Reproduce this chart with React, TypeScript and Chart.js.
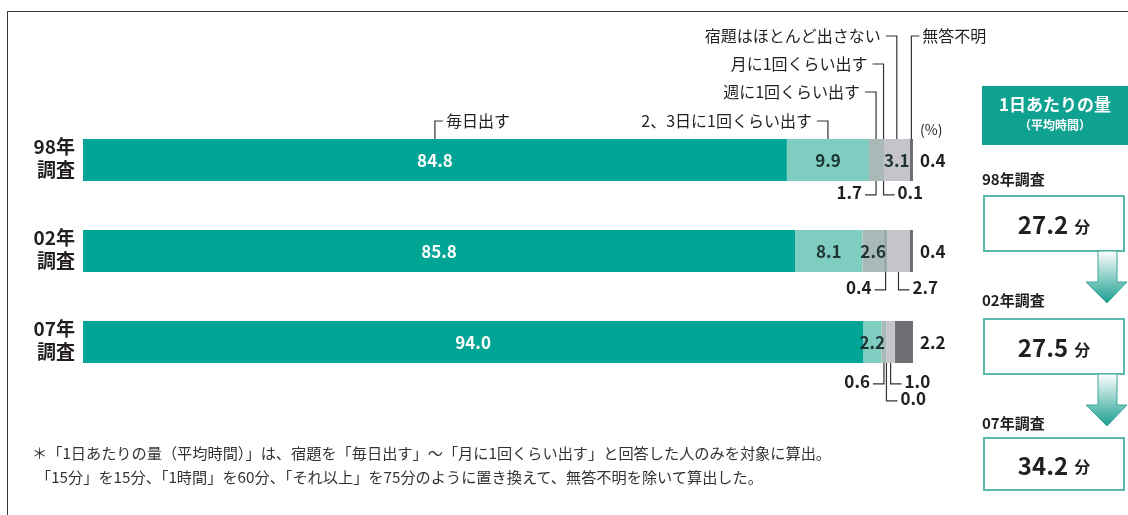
import React, { useEffect, useRef } from 'react';
import { Chart, registerables } from 'chart.js';

Chart.register(...registerables);

// ---------- data ----------
const surveys = ['98年調査', '02年調査', '07年調査'];
const surveyLines = [['98年', '調査'], ['02年', '調査'], ['07年', '調査']];
const categories = [
  '毎日出す',
  '2、3日に1回くらい出す',
  '週に1回くらい出す',
  '月に1回くらい出す',
  '宿題はほとんど出さない',
  '無答不明',
];
const daily = [84.8, 85.8, 94.0];
const every2or3Days = [9.9, 8.1, 2.2];
const weekly = [1.7, 2.6, 0.6];
const monthly = [0.1, 0.4, 0.0];
const rarely = [3.1, 2.7, 1.0];
const noAnswer = [0.4, 0.4, 2.2];
const avgMinutes = [27.2, 27.5, 34.2];
const panelTitle = '1日あたりの量';
const panelSub = '（平均時間）';
const unitLabel = '分';
const percentLabel = '(%)';
const footnotes = [
  '＊「1日あたりの量（平均時間）」は、宿題を「毎日出す」～「月に1回くらい出す」と回答した人のみを対象に算出。',
  '「15分」を15分、「1時間」を60分、「それ以上」を75分のように置き換えて、無答不明を除いて算出した。',
];

// ---------- styles ----------
const FONT = "'Noto Sans CJK JP', 'Noto Sans', sans-serif";
const colors = ['#00a595', '#7fcdc1', '#a9b9b7', '#9aa9a8', '#c6c4cb', '#6e6e73'];
const TEXT = '#231f20';
// where each value label goes: inW (inside, white), in (inside, dark), right, bL1 (below-left), bR1, bR2
const placements = [
  ['inW', 'in', 'bL1', 'bR1', 'in', 'right'],
  ['inW', 'in', 'in', 'bL1', 'bR1', 'right'],
  ['inW', 'in', 'bL1', 'bR2', 'bR1', 'right'],
];
const belowOffsets = [12, 16, 19];
// top category labels on first bar: [levelY, side]
const topLabelLayout: [number, 'l' | 'r'][] = [
  [121, 'r'],
  [121, 'l'],
  [92, 'l'],
  [64, 'l'],
  [36, 'l'],
  [36, 'r'],
];

const series = [daily, every2or3Days, weekly, monthly, rarely, noAnswer];

const annotatePlugin = {
  id: 'annotate',
  afterDatasetsDraw(chart: any) {
    const ctx = chart.ctx as CanvasRenderingContext2D;
    const xs = chart.scales.x;
    const n = chart.data.labels.length;
    ctx.save();
    ctx.strokeStyle = '#333';
    ctx.lineWidth = 1.2;
    ctx.textBaseline = 'middle';
    for (let i = 0; i < n; i++) {
      const bar = chart.getDatasetMeta(0).data[i];
      const yc = bar.y;
      const h = bar.height;
      const top = yc - h / 2;
      const bottom = yc + h / 2;
      // survey labels
      ctx.fillStyle = TEXT;
      ctx.font = `bold 19px ${FONT}`;
      ctx.textAlign = 'right';
      ctx.fillText(surveyLines[i][0], 75, yc - 13);
      ctx.fillText(surveyLines[i][1], 75, yc + 10);
      let cum = 0;
      chart.data.datasets.forEach((ds: any, j: number) => {
        const v = ds.data[i] as number;
        const x0 = xs.getPixelForValue(cum);
        cum += v;
        const x1 = xs.getPixelForValue(cum);
        const cx = (x0 + x1) / 2;
        const txt = v.toFixed(1);
        const p = placements[i][j];
        ctx.font = `bold 17px ${FONT}`;
        if (p === 'inW' || p === 'in') {
          ctx.fillStyle = p === 'inW' ? '#ffffff' : '#1e3535';
          ctx.textAlign = 'center';
          ctx.fillText(txt, cx, yc + 1);
        } else if (p === 'right') {
          ctx.fillStyle = TEXT;
          ctx.textAlign = 'left';
          ctx.fillText(txt, xs.getPixelForValue(100) + 7, yc + 1);
        } else {
          const level = p === 'bR2' ? 2 : 1;
          const ly = bottom + belowOffsets[i] + (level - 1) * 17;
          ctx.beginPath();
          ctx.moveTo(cx, bottom);
          ctx.lineTo(cx, ly + 2);
          if (p === 'bL1') {
            ctx.lineTo(cx - 11, ly + 2);
          } else {
            ctx.lineTo(cx + 11, ly + 2);
          }
          ctx.stroke();
          ctx.fillStyle = TEXT;
          if (p === 'bL1') {
            ctx.textAlign = 'right';
            ctx.fillText(txt, cx - 14, ly);
          } else {
            ctx.textAlign = 'left';
            ctx.fillText(txt, cx + 14, ly);
          }
        }
        // category labels on first bar
        if (i === 0) {
          const [ly, side] = topLabelLayout[j];
          ctx.beginPath();
          ctx.moveTo(cx, top);
          ctx.lineTo(cx, ly);
          ctx.lineTo(side === 'r' ? cx + 8 : cx - 11, ly);
          ctx.stroke();
          ctx.font = `16px ${FONT}`;
          ctx.fillStyle = TEXT;
          ctx.textAlign = side === 'r' ? 'left' : 'right';
          ctx.fillText(ds.label, side === 'r' ? cx + 11 : cx - 16, ly);
        }
      });
      if (i === 0) {
        ctx.font = `14px ${FONT}`;
        ctx.fillStyle = TEXT;
        ctx.textAlign = 'left';
        ctx.fillText(percentLabel, xs.getPixelForValue(100) + 7, top - 9);
      }
    }
    ctx.restore();
  },
};

function Panel() {
  const boxes = [
    { label: 195 - 16, top: 195, bottom: 252 },
    { label: 318 - 18, top: 318, bottom: 375 },
    { label: 437 - 14, top: 437, bottom: 491 },
  ];
  const arrow = (y0: number) =>
    `1098,${y0} 1117,${y0} 1117,${y0 + 31} 1127,${y0 + 31} 1107,${y0 + 52} 1086,${y0 + 31} 1098,${y0 + 31}`;
  return (
    <>
      <div
        style={{
          position: 'absolute', left: 982, top: 86, width: 146, height: 59,
          background: '#10a291', color: '#fff', fontFamily: FONT, textAlign: 'center',
        }}
      >
        <div style={{ fontSize: 17, fontWeight: 700, marginTop: 7, lineHeight: '22px' }}>{panelTitle}</div>
        <div style={{ fontSize: 12, fontWeight: 700, marginTop: 2, lineHeight: '16px' }}>{panelSub}</div>
      </div>
      {boxes.map((b, i) => (
        <React.Fragment key={i}>
          <div
            style={{
              position: 'absolute', left: 982, top: b.label - 10, fontFamily: FONT,
              fontSize: 15, fontWeight: 700, color: TEXT, lineHeight: '20px',
            }}
          >
            {surveys[i]}
          </div>
          <div
            style={{
              position: 'absolute', left: 983, top: b.top, width: 142, height: b.bottom - b.top,
              boxSizing: 'border-box', border: '2px solid #5ab8ab', background: '#fff',
              display: 'flex', alignItems: 'center', justifyContent: 'center', fontFamily: FONT, color: TEXT,
            }}
          >
            <span style={{ fontSize: 24, fontWeight: 700 }}>{avgMinutes[i].toFixed(1)}</span>
            <span style={{ fontSize: 16, fontWeight: 700, marginLeft: 6, marginTop: 4 }}>{unitLabel}</span>
          </div>
        </React.Fragment>
      ))}
      <svg width={1128} height={515} style={{ position: 'absolute', left: 0, top: 0, pointerEvents: 'none' }}>
        <defs>
          <linearGradient id="ag" x1="0" y1="0" x2="0" y2="1">
            <stop offset="0" stopColor="#ffffff" />
            <stop offset="1" stopColor="#1a9e8f" />
          </linearGradient>
        </defs>
        <polygon points={arrow(251)} fill="url(#ag)" stroke="#3aa89a" strokeWidth={1} />
        <polygon points={arrow(374)} fill="url(#ag)" stroke="#3aa89a" strokeWidth={1} />
      </svg>
    </>
  );
}

export default function App() {
  const ref = useRef<HTMLCanvasElement>(null);
  useEffect(() => {
    document.body.style.margin = '0';
    if (!ref.current) return;
    const chart = new Chart(ref.current, {
      type: 'bar',
      data: {
        labels: surveys,
        datasets: series.map((d, j) => ({
          label: categories[j],
          data: d,
          backgroundColor: colors[j],
          borderWidth: 0,
          barPercentage: 0.92,
          categoryPercentage: 0.5,
        })),
      },
      options: {
        indexAxis: 'y',
        responsive: false,
        animation: false,
        devicePixelRatio: 1,
        layout: { padding: { left: 83, right: 215, top: 114.5, bottom: 127.5 } },
        scales: {
          x: { stacked: true, min: 0, max: 100, display: false },
          y: { stacked: true, display: false },
        },
        plugins: { legend: { display: false }, tooltip: { enabled: false } },
      },
      plugins: [annotatePlugin],
    });
    return () => chart.destroy();
  }, []);
  return (
    <div style={{ position: 'relative', width: 1128, height: 515, background: '#fff', overflow: 'hidden' }}>
      <canvas ref={ref} width={1128} height={515} style={{ position: 'absolute', left: 0, top: 0 }} />
      <div
        style={{
          position: 'absolute', left: 7, top: 11, width: 1130, height: 520,
          borderTop: '1.5px solid #3a3a3a', borderLeft: '1.5px solid #3a3a3a', pointerEvents: 'none',
        }}
      />
      <Panel />
      <div
        style={{
          position: 'absolute', left: 32, top: 440, fontFamily: FONT, fontSize: 15.2,
          lineHeight: '24px', color: '#333', whiteSpace: 'nowrap',
        }}
      >
        <div>{footnotes[0]}</div>
        <div style={{ marginLeft: 4 }}>{footnotes[1]}</div>
      </div>
    </div>
  );
}
